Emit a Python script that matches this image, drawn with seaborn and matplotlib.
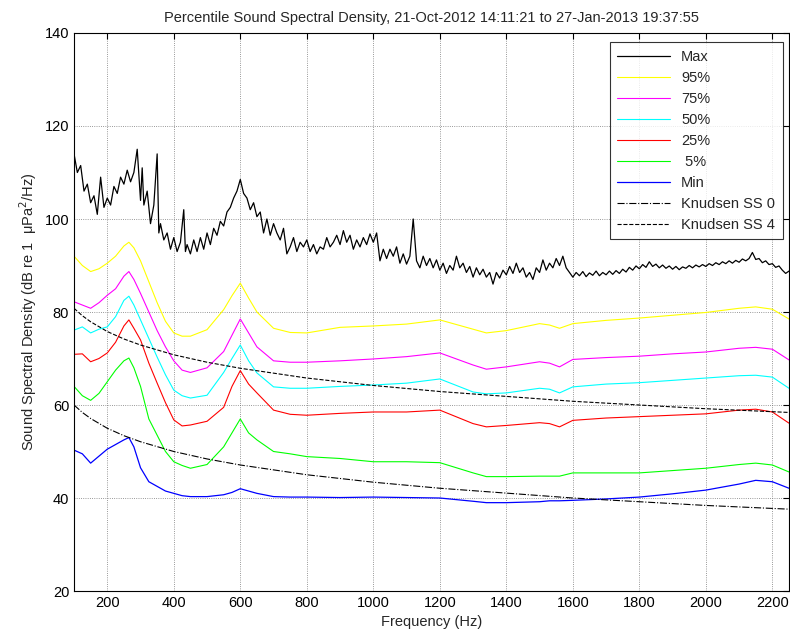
import numpy as np
import pandas as pd
import matplotlib
matplotlib.use("Agg")
import matplotlib.pyplot as plt
import seaborn as sns

# ---------------- data ----------------
freq = [100, 125, 150, 175, 200, 225, 250, 265, 280, 300, 325, 350, 375, 400, 425, 450,
        500, 550, 575, 600, 625, 650, 700, 750, 800, 900, 1000, 1100, 1200, 1300, 1340,
        1400, 1500, 1530, 1560, 1600, 1700, 1800, 1900, 2000, 2100, 2150, 2200, 2250]

p95 = [92, 90, 88.7, 89.3, 90.5, 92, 94.2, 95, 93.8, 91, 86.5, 82, 78, 75.5, 74.8, 74.8,
       76.2, 80.5, 83.5, 86.2, 83, 80, 76.5, 75.6, 75.5, 76.7, 77, 77.4, 78.3, 76.3, 75.5,
       76, 77.5, 77.2, 76.5, 77.5, 78.2, 78.7, 79.3, 79.9, 80.8, 81.1, 80.6, 78.5]

p75 = [82.2, 81.5, 80.8, 82, 83.6, 85, 87.7, 88.7, 87, 84, 80, 76, 72.5, 69.5, 67.5, 67,
       68, 71.5, 75, 78.5, 75.5, 72.5, 69.5, 69.2, 69.2, 69.5, 69.9, 70.4, 71.2, 68.6, 67.7,
       68.2, 69.3, 69, 68.2, 69.8, 70.2, 70.5, 71, 71.4, 72.2, 72.4, 72, 69.7]

p50 = [76.1, 76.8, 75.5, 76.3, 76.8, 79, 82.5, 83.4, 81.5, 78.3, 74.3, 70.3, 66.5, 63.2, 62, 61.5,
       62.1, 67, 70, 72.9, 69.5, 66.9, 63.9, 63.6, 63.6, 64, 64.3, 64.7, 65.6, 62.8, 62.4,
       62.6, 63.6, 63.4, 62.6, 63.9, 64.5, 64.8, 65.3, 65.8, 66.3, 66.4, 66, 63.6]

p25 = [70.9, 71, 69.3, 70, 71.2, 73.5, 77, 78.3, 76.5, 74, 69, 64.7, 60.5, 56.8, 55.5, 55.7,
       56.5, 59.5, 64, 67.4, 64.5, 62.6, 58.9, 58, 57.8, 58.2, 58.5, 58.5, 58.9, 56, 55.3,
       55.6, 56.2, 56, 55.3, 56.7, 57.2, 57.5, 57.8, 58.1, 58.9, 59.1, 58.5, 56.1]

p05 = [64, 62, 61, 62.5, 65, 67.5, 69.5, 70.1, 68, 64, 57, 53.5, 50, 47.8, 47, 46.4,
       47.2, 51, 54, 57, 54, 52.5, 50, 49.5, 48.9, 48.5, 47.8, 47.8, 47.6, 45.4, 44.6,
       44.6, 44.7, 44.7, 44.7, 45.4, 45.4, 45.4, 45.9, 46.4, 47.2, 47.5, 47.1, 45.6]

pmin = [50.3, 49.5, 47.5, 49, 50.5, 51.5, 52.5, 53, 51, 46.5, 43.5, 42.5, 41.5, 41, 40.5, 40.3,
        40.3, 40.7, 41.2, 42, 41.5, 41, 40.3, 40.2, 40.2, 40.1, 40.2, 40.1, 40, 39.3, 39,
        39, 39.2, 39.4, 39.4, 39.5, 39.8, 40.2, 40.9, 41.7, 43, 43.8, 43.5, 42.1]

# Max spectrum (noisy) - low band, read point by point
max_freq_low = [100, 110, 120, 130, 140, 150, 160, 170, 180, 190, 200, 210, 220, 230, 240,
                250, 260, 270, 280, 290, 300, 305, 310, 320, 330, 340, 350, 355, 360, 370,
                380, 390, 400, 410, 420, 430, 435, 440, 450, 460, 470, 480, 490, 500, 510,
                520, 530, 540, 550, 560, 570, 580, 590, 600, 610, 620, 630, 640, 650, 660,
                670, 680, 690, 700]
max_val_low = [114, 110, 111.5, 106, 107.5, 103.5, 105, 101, 109, 102.5, 104.5, 103, 107, 105.5, 109,
               107.5, 110.5, 108, 110, 115, 104, 111, 103, 106, 99, 103, 114, 97, 99, 95.5,
               97, 93.5, 96, 93, 95, 102, 93, 94.5, 92.5, 95.5, 93, 96, 93.5, 97, 94.5,
               98, 96.5, 99.5, 98.5, 101.5, 102.5, 104.5, 106, 108.5, 105.5, 104.5, 102, 103.5, 100.5, 101.5,
               97, 100, 96.5, 99]
# Max spectrum - high band, 710 Hz to 2250 Hz in 10 Hz bins
max_freq_high = list(range(710, 2260, 10))
max_val_high = [97, 95.5, 98, 92.5, 94, 96, 93, 95, 94, 95.5,
                93, 94.5, 92.5, 94, 93.5, 96, 94, 95, 96.5, 94.5,
                97.5, 95, 96.5, 93.5, 95.5, 94, 96, 94.5, 96.8, 95,
                97, 91, 93.5, 91.5, 93.5, 92, 94, 90.5, 92.5, 90.3,
                92, 100, 91, 89.5, 92, 90, 91.5, 89.5, 91.2, 89,
                90.5, 88.3, 90, 89, 92, 89.5, 90.5, 88.5, 89.8, 87.5,
                89.5, 88, 89.2, 87.5, 88.5, 86, 88.5, 87.3, 89, 88,
                89.8, 88.3, 90.5, 88.5, 89.5, 87.5, 88.5, 87, 89.5, 88.5,
                91.2, 89, 90.5, 89.5, 91.5, 90, 92, 89.5, 88.5, 87.5,
                88.5, 87.8, 88.7, 87.6, 88.4, 87.9, 88.8, 87.8, 88.5, 88,
                88.8, 88.1, 88.9, 88.3, 89.2, 88.6, 89.6, 89, 89.9, 89.3,
                90.2, 89.6, 90.8, 89.8, 90.3, 89.5, 90.1, 89.4, 89.9, 89.2,
                89.8, 89.1, 89.7, 89.4, 90, 89.5, 90.1, 89.7, 90.2, 89.8,
                90.4, 90, 90.6, 90.2, 90.8, 90.4, 91, 90.5, 91.1, 90.7,
                91.4, 91, 91.5, 92.8, 91.3, 91.5, 90.6, 91, 90.2, 90.4,
                89.6, 89.9, 89, 88.3, 88.8]

knud_freq = [100, 125, 150, 200, 250, 300, 400, 500, 600, 800, 1000, 1200, 1600, 2000, 2250]
knud_ss0 = [60, 58.4, 57.1, 55, 53.4, 52.1, 50, 48.4, 47.1, 45, 43.4, 42.1, 40, 38.4, 37.6]
knud_ss4 = [80.8, 79.2, 77.9, 75.8, 74.2, 72.9, 70.8, 69.2, 67.9, 65.8, 64.2, 62.9, 60.8, 59.2, 58.4]

labels = ["Max", "95%", "75%", "50%", "25%", " 5%", "Min", "Knudsen SS 0", "Knudsen SS 4"]
colors = ["#000000", "#ffff00", "#ff00ff", "#00ffff", "#ff0000", "#00ff00", "#0000ff",
          "#000000", "#000000"]

title = "Percentile Sound Spectral Density, 21-Oct-2012 14:11:21 to 27-Jan-2013 19:37:55"
xticks = [200, 400, 600, 800, 1000, 1200, 1400, 1600, 1800, 2000, 2200]
yticks = [20, 40, 60, 80, 100, 120, 140]

# ---------------- plotting ----------------
sns.set_style("white")
plt.rcParams['font.family'] = ['Liberation Sans', 'DejaVu Sans']

fig = plt.figure(figsize=(7.9, 6.37), dpi=100)
ax = fig.add_axes([0.0937, 0.0722, 0.905, 0.876])

max_freq = max_freq_low + max_freq_high
max_val = max_val_low + max_val_high

series = [(max_freq, max_val), (freq, p95), (freq, p75), (freq, p50), (freq, p25),
          (freq, p05), (freq, pmin)]
for (fx, fy), lab, col in zip(series, labels[:7], colors[:7]):
    lw = 0.9 if lab in ("Max", "Min") else 0.8
    sns.lineplot(x=fx, y=fy, ax=ax, color=col, label=lab, linewidth=lw,
                 estimator=None, sort=False)
sns.lineplot(x=knud_freq, y=knud_ss0, ax=ax, color=colors[7], label=labels[7],
             linewidth=0.8, linestyle="-.", estimator=None)
sns.lineplot(x=knud_freq, y=knud_ss4, ax=ax, color=colors[8], label=labels[8],
             linewidth=0.8, linestyle="--", estimator=None)

ax.set_xlim(100, 2250)
ax.set_ylim(20, 140)
ax.set_xticks(xticks)
ax.set_yticks(yticks)
ax.grid(True, linestyle=":", color="#777777", linewidth=0.6)
ax.tick_params(direction="in", top=True, right=True, length=4, labelsize=10.5,
               colors="black")
for s in ax.spines.values():
    s.set_visible(True)
    s.set_color("black")
    s.set_linewidth(0.8)

ax.set_xlabel("Frequency (Hz)", fontsize=10.5)
ax.set_ylabel("Sound Spectral Density (dB re 1  μPa$^2$/Hz)", fontsize=10.5)
ax.set_title(title, fontsize=10.5, pad=8)

leg = ax.legend(loc="upper right", bbox_to_anchor=(0.991, 0.983), fontsize=10.5,
                frameon=True, fancybox=False, handlelength=3.6, labelspacing=0.48,
                borderpad=0.5, handletextpad=0.8, borderaxespad=0)
leg.get_frame().set_edgecolor("black")
leg.get_frame().set_linewidth(0.8)

fig.savefig("out.png", dpi=100)
